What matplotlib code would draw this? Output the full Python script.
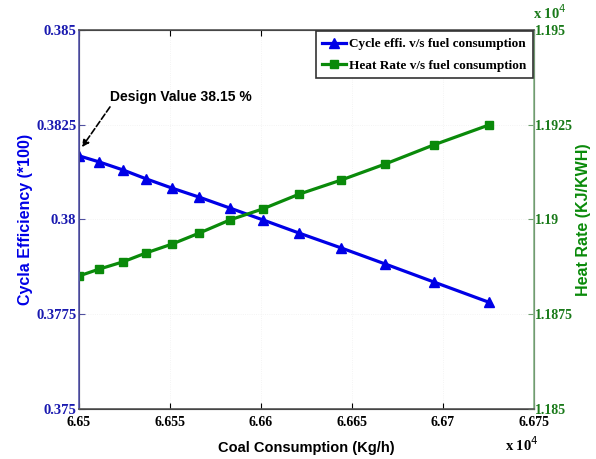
import numpy as np
import matplotlib.pyplot as plt

# coal consumption (x 10^4 kg/h)
coal = [6.6500, 6.6511, 6.6524, 6.6537, 6.6551, 6.6566, 6.6583,
        6.6601, 6.6621, 6.6644, 6.6668, 6.6695, 6.6725]
# cycle efficiency (*100)
eff = [0.38168, 0.38152, 0.38131, 0.38107, 0.38083, 0.38059, 0.38030,
       0.37999, 0.37964, 0.37925, 0.37883, 0.37835, 0.37782]
# heat rate (x 10^4 kJ/kWh)
heat = [1.18851, 1.18869, 1.18888, 1.18912, 1.18935, 1.18964, 1.18999,
        1.19028, 1.19067, 1.19104, 1.19146, 1.19197, 1.19249]

xticks = [6.65, 6.655, 6.66, 6.665, 6.67, 6.675]
xlabels = ['6.65', '6.655', '6.66', '6.665', '6.67', '6.675']
lticks = [0.375, 0.3775, 0.38, 0.3825, 0.385]
llabels = ['0.375', '0.3775', '0.38', '0.3825', '0.385']
rticks = [1.185, 1.1875, 1.19, 1.1925, 1.195]
rlabels = ['1.185', '1.1875', '1.19', '1.1925', '1.195']

blue = '#0000e6'
green = '#0a8a0a'
serif = ['Liberation Serif', 'DejaVu Serif']
sans = ['Liberation Sans', 'DejaVu Sans']

fig = plt.figure(figsize=(5.96, 4.59), dpi=100)
ax = fig.add_axes([0.1326, 0.109, 0.7634, 0.8256])
ax2 = ax.twinx()

ax.grid(True, color='#f0f0f0', ls=':', lw=0.6)

l1, = ax.plot(coal, eff, '-^', color=blue, lw=2.3, ms=6.5,
              label='Cycle effi. v/s fuel consumption')
l2, = ax2.plot(coal, heat, '-s', color=green, lw=2.3, ms=5.5,
               label='Heat Rate v/s fuel consumption')

ax.set_xlim(6.65, 6.675)
ax.set_ylim(0.375, 0.385)
ax2.set_ylim(1.185, 1.195)

ax.set_xticks(xticks)
ax.set_xticklabels(xlabels, family=serif, fontweight='bold', fontsize=10)
ax.set_yticks(lticks)
ax.set_yticklabels(llabels, family=serif, fontweight='bold', fontsize=10.5, color='#1a1ab0')
ax2.set_yticks(rticks)
ax2.set_yticklabels(rlabels, family=serif, fontweight='bold', fontsize=10, color='#1a7a1a')

ax.tick_params(axis='x', direction='in', length=4, top=True, pad=5)
ax.tick_params(axis='y', direction='in', length=4, colors='#5050a0',
               labelcolor='#1a1ab0', pad=2)
ax2.tick_params(axis='y', direction='in', length=4, colors='#70a070',
                labelcolor='#1a7a1a', pad=1)

ax2.spines['left'].set_color('#5a5ab0')
ax2.spines['right'].set_color('#8ab88a')
ax2.spines['top'].set_color('#555555')
ax2.spines['bottom'].set_color('#555555')
for s in ax2.spines.values():
    s.set_linewidth(1.2)

ax.set_xlabel('Coal Consumption (Kg/h)', family=sans, fontweight='bold',
              fontsize=10.5, labelpad=9)
ax.set_ylabel('Cycla Efficiency (*100)', family=sans,
              fontweight='bold', fontsize=11.5, color=blue, labelpad=2)
ax2.set_ylabel('Heat Rate (KJ/KWH)', family=sans,
               fontweight='bold', fontsize=11.5, color=green, labelpad=2)

fig.text(0.848, 0.018, 'x 10$^4$', family=serif, fontweight='bold', fontsize=10.5)
fig.text(0.895, 0.958, 'x 10$^4$', family=serif, fontweight='bold', fontsize=10.5,
         color='#1a7a1a')

ax.text(6.6517, 0.38323, 'Design Value 38.15 %', family=sans,
        fontweight='bold', fontsize=10, va='center', ha='left')
ax.annotate('', xy=(6.65016, 0.38191), xytext=(6.6517, 0.38297),
            arrowprops=dict(arrowstyle='-|>', linestyle='--', color='black', lw=1.2,
                            shrinkA=0, shrinkB=0))

leg = ax2.legend([l1, l2], [l1.get_label(), l2.get_label()], loc='upper right',
                 prop={'family': serif, 'weight': 'bold', 'size': 9.5},
                 fancybox=False, framealpha=1, edgecolor='#333333',
                 borderaxespad=0.1, handlelength=1.8, handletextpad=0.2,
                 borderpad=0.5, labelspacing=0.7)
leg.get_frame().set_linewidth(1.2)

fig.savefig('out.png', dpi=100)
